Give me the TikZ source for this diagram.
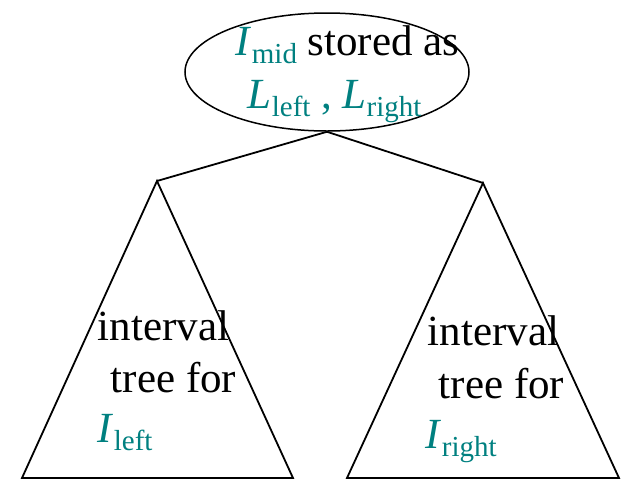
\documentclass[tikz,border=0pt]{standalone}
\usepackage{fontspec}
\setmainfont{Liberation Serif}
\usetikzlibrary{shapes.geometric}
\definecolor{tealtext}{RGB}{0,128,128}
% lowered, smaller subscript in the surrounding colour
\newcommand{\lowsub}[1]{\raisebox{-8pt}{\fontsize{29}{30}\selectfont #1}}
\begin{document}
\begin{tikzpicture}[x=1pt,y=-1pt,
  line width=1.8pt,
  txt/.style={anchor=base west,inner sep=0pt,font=\fontsize{43}{50}\selectfont},
  var/.style={txt,text=tealtext}]
\useasboundingbox (0,0) rectangle (625,483);

% root node
\node[ellipse,draw,line width=1.5pt,minimum width=284pt,minimum height=118pt,inner sep=0pt] (root) at (327,72) {};
\node[txt] (rootA) at (235,55) {\textcolor{tealtext}{\textit{I}\lowsub{mid}} stored as};
\node[var] (rootB) at (247,108) {\textit{L}\lowsub{left} , \textit{L}\lowsub{right}};

% subtree apexes and bases
\coordinate (lapex) at (157,181);
\coordinate (lbl) at (22,478);
\coordinate (lbr) at (293,478);
\coordinate (rapex) at (483,183);
\coordinate (rbl) at (347,478);
\coordinate (rbr) at (619,478);

% edges to subtrees
\draw (root.south) -- (lapex);
\draw (root.south) -- (rapex);

% subtree triangles
\draw[line join=miter] (lapex) -- (lbr) -- (lbl) -- cycle;
\draw[line join=miter] (rapex) -- (rbr) -- (rbl) -- cycle;

% left subtree label
\node[txt] (l1) at (97,340) {interval};
\node[txt] (l2) at (110,392) {tree for};
\node[var] (l3) at (97,442) {\textit{I}\lowsub{left}};

% right subtree label
\node[txt] (r1) at (427,345) {interval};
\node[txt] (r2) at (438,398) {tree for};
\node[var] (r3) at (425,448) {\textit{I}\lowsub{right}};
\end{tikzpicture}
\end{document}
